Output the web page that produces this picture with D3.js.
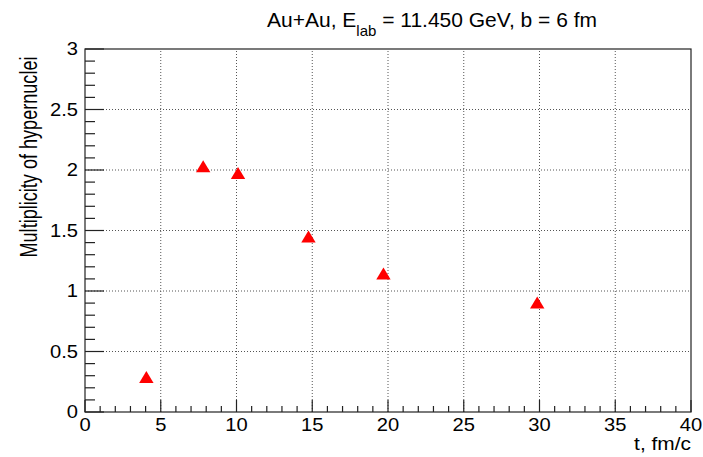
<!DOCTYPE html>
<html>
<head>
<meta charset="utf-8">
<script src="https://cdn.jsdelivr.net/npm/d3@7"></script>
<style>
  body { margin: 0; background: #fff; }
  svg text { font-family: "Liberation Sans", Arial, sans-serif; fill: #000; }
</style>
</head>
<body>
<div id="container"></div>
<script>
// Hypernuclei multiplicity vs time
var tValues = [4.05, 7.8, 10.1, 14.75, 19.7, 29.85];
var multValues = [0.29, 2.03, 1.975, 1.45, 1.145, 0.905];
var xTicks = [0, 5, 10, 15, 20, 25, 30, 35, 40];
var yTicks = [0, 0.5, 1, 1.5, 2, 2.5, 3];

var svg_width = 703, svg_height = 457;
var margin = {left: 85, right: 12, top: 49, bottom: 45};

var svg = d3.select("#container")
    .append("svg")
    .attr("width", svg_width)
    .attr("height", svg_height);

var x = d3.scaleLinear().domain([0, 40]).range([margin.left, svg_width - margin.right]);
var y = d3.scaleLinear().domain([0, 3]).range([svg_height - margin.bottom, margin.top]);

var x0 = x(0), x1 = x(40), y0 = y(0), y1 = y(3);

// dotted grid at major ticks
var grid = svg.append("g");
grid.selectAll(".gx")
    .data(xTicks.slice(1, -1))
    .enter().append("line")
    .attr("x1", d => x(d)).attr("x2", d => x(d))
    .attr("y1", y0).attr("y2", y1)
    .attr("stroke", "#555").attr("stroke-width", 1)
    .attr("stroke-dasharray", "1,2");
grid.selectAll(".gy")
    .data(yTicks.slice(1, -1))
    .enter().append("line")
    .attr("x1", x0).attr("x2", x1)
    .attr("y1", d => y(d)).attr("y2", d => y(d))
    .attr("stroke", "#555").attr("stroke-width", 1)
    .attr("stroke-dasharray", "1,2");

// frame
svg.append("rect")
    .attr("x", x0).attr("y", y1)
    .attr("width", x1 - x0).attr("height", y0 - y1)
    .attr("fill", "none").attr("stroke", "#222").attr("stroke-width", 1.2);

// x axis: ticks drawn inward (upwards)
var xMinor = d3.range(0, 40.01, 1);
svg.append("g").selectAll("line")
    .data(xMinor)
    .enter().append("line")
    .attr("x1", d => x(d)).attr("x2", d => x(d))
    .attr("y1", y0)
    .attr("y2", d => y0 - (d % 5 === 0 ? 12 : 6))
    .attr("stroke", "#222").attr("stroke-width", 1.2);

// tick labels are slightly wide, so stretch them horizontally
svg.append("g").selectAll("text")
    .data(xTicks)
    .enter().append("text")
    .attr("transform", d => "translate(" + x(d) + "," + (y0 + 19) + ") scale(1.12,1)")
    .attr("text-anchor", "middle")
    .style("font-size", "18px")
    .text(d => d);

// y axis: ticks drawn inward (to the right)
var yMinor = d3.range(0, 31, 1).map(d => d / 10);
svg.append("g").selectAll("line")
    .data(yMinor)
    .enter().append("line")
    .attr("x1", x0)
    .attr("x2", (d, i) => x0 + (i % 5 === 0 ? 19 : 10))
    .attr("y1", d => y(d)).attr("y2", d => y(d))
    .attr("stroke", "#222").attr("stroke-width", 1.2);

svg.append("g").selectAll("text")
    .data(yTicks)
    .enter().append("text")
    .attr("transform", d => "translate(" + (x0 - 7) + "," + (y(d) + 6) + ") scale(1.12,1)")
    .attr("text-anchor", "end")
    .style("font-size", "18px")
    .text(d => d);

// axis titles
svg.append("text")
    .attr("transform", "translate(" + x1 + ",450) scale(1.1,1)")
    .attr("text-anchor", "end")
    .style("font-size", "19px")
    .text("t, fm/c");

svg.append("text")
    .attr("transform", "translate(37," + 157 + ") rotate(-90)")
    .attr("text-anchor", "middle")
    .style("font-size", "23px")
    .attr("textLength", 201)
    .attr("lengthAdjust", "spacingAndGlyphs")
    .text("Multiplicity of hypernuclei");

// title with subscript
var title = svg.append("text")
    .attr("x", 432)
    .attr("y", 27)
    .attr("text-anchor", "middle")
    .style("font-size", "21px");
title.append("tspan").text("Au+Au, E");
title.append("tspan").attr("dy", 9).style("font-size", "15px").text("lab");
title.append("tspan").attr("dy", -9).text(" = 11.450 GeV, b = 6 fm");

// red triangle markers, box-centred on the data point
function triangle(cx, cy) {
    var w = 7.2, h = 6;
    return "M" + (cx - w) + "," + (cy + h) +
           "L" + (cx + w) + "," + (cy + h) +
           "L" + cx + "," + (cy - h) + "Z";
}

svg.append("g").selectAll("path")
    .data(tValues.map((t, i) => [t, multValues[i]]))
    .enter().append("path")
    .attr("d", d => triangle(x(d[0]), y(d[1])))
    .attr("fill", "#ff0000");
</script>
</body>
</html>
